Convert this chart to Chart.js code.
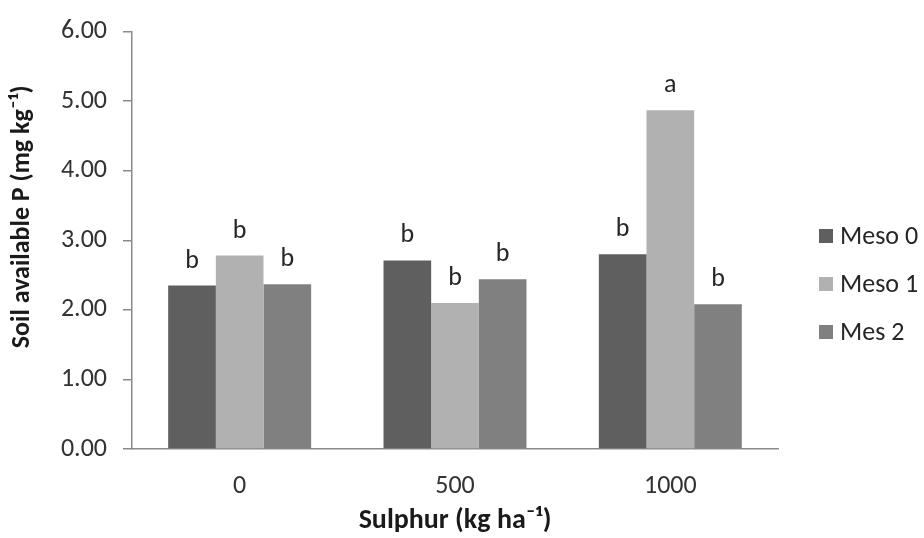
<!DOCTYPE html>
<html>
<head>
<meta charset="utf-8">
<script src="https://cdn.jsdelivr.net/npm/chart.js@4"></script>
<style>
  html, body { margin: 0; padding: 0; background: #ffffff; }
  #wrap { width: 924px; height: 538px; }
</style>
</head>
<body>
<div id="wrap"><canvas id="grafico" width="924" height="538"></canvas></div>
<script>
/* =========================
   DATOS
========================= */

const categorias = ["0", "500", "1000"];

const meso0 = [2.35, 2.71, 2.80];
const meso1 = [2.78, 2.10, 4.87];
const mes2 = [2.37, 2.44, 2.08];

// letras de significancia encima de cada barra
const letrasMeso0 = ["b", "b", "b"];
const letrasMeso1 = ["b", "b", "a"];
const letrasMes2 = ["b", "b", "b"];

const nombresSeries = ["Meso 0", "Meso 1", "Mes 2"];
const coloresSeries = ["#5f5f5f", "#b1b1b1", "#808080"];

const yMin = 0;
const yMax = 6;
const yPaso = 1;

const FUENTE = "Carlito, Lato, 'Open Sans', sans-serif";

/* =========================
   PLUGINS
========================= */

// letras sobre las barras
const pluginLetras = {
  id: "letras",
  afterDatasetsDraw(chart) {
    const ctx = chart.ctx;
    ctx.save();
    ctx.font = "26px " + FUENTE;
    ctx.fillStyle = "#262626";
    ctx.textAlign = "center";
    ctx.textBaseline = "alphabetic";
    chart.data.datasets.forEach((ds, i) => {
      const meta = chart.getDatasetMeta(i);
      meta.data.forEach((bar, j) => {
        ctx.fillText(ds.letras[j], bar.x, bar.y - 18);
      });
    });
    ctx.restore();
  }
};

// leyenda a la derecha
const pluginLeyenda = {
  id: "leyendaDerecha",
  afterDraw(chart) {
    const ctx = chart.ctx;
    const x = chart.chartArea.right + 41;
    const y0 = 236;
    const salto = 48;
    ctx.save();
    ctx.font = "26px " + FUENTE;
    ctx.textBaseline = "middle";
    ctx.textAlign = "left";
    chart.data.datasets.forEach((ds, i) => {
      const y = y0 + i * salto;
      ctx.fillStyle = ds.backgroundColor;
      ctx.fillRect(x, y - 7, 14, 14);
      ctx.fillStyle = "#262626";
      ctx.fillText(ds.label, x + 21, y + 1);
    });
    ctx.restore();
  }
};

/* =========================
   GRÁFICO
========================= */

const series = [meso0, meso1, mes2];
const letras = [letrasMeso0, letrasMeso1, letrasMes2];

new Chart(document.getElementById("grafico"), {
  type: "bar",
  data: {
    labels: categorias,
    datasets: series.map((valores, i) => ({
      label: nombresSeries[i],
      data: valores,
      letras: letras[i],
      backgroundColor: coloresSeries[i],
      borderWidth: 0,
      categoryPercentage: 0.664,
      barPercentage: 1.0
    }))
  },
  options: {
    responsive: false,
    animation: false,
    devicePixelRatio: 1,
    layout: { padding: { left: 0, right: 146, top: 25, bottom: 0 } },
    plugins: {
      legend: { display: false },
      tooltip: { enabled: false }
    },
    scales: {
      x: {
        grid: { display: false, drawTicks: false },
        border: { display: true, color: "#8a8a8a", width: 1.5 },
        ticks: {
          color: "#333333",
          font: { family: FUENTE, size: 26 },
          padding: 22
        },
        title: {
          display: true,
          text: "Sulphur (kg ha\u207B\u00B9)",
          color: "#1a1a1a",
          font: { family: FUENTE, size: 28, weight: "bold" },
          padding: { top: 0, bottom: 0 }
        },
        afterFit(scale) { scale.height = 89; }
      },
      y: {
        min: yMin,
        max: yMax,
        grid: {
          drawOnChartArea: false,
          drawTicks: true,
          tickLength: 9,
          color: "#8a8a8a",
          lineWidth: 1.5
        },
        border: { display: true, color: "#8a8a8a", width: 1.5 },
        ticks: {
          stepSize: yPaso,
          color: "#333333",
          font: { family: FUENTE, size: 26 },
          padding: 16,
          callback: (v) => Number(v).toFixed(2)
        },
        title: {
          display: true,
          // espacios delante para subir un poco el título, como en el original
          text: "        Soil available P (mg kg\u207B\u00B9)",
          color: "#1a1a1a",
          font: { family: FUENTE, size: 26, weight: "bold" },
          padding: { top: 7, bottom: 0 }
        },
        afterFit(scale) { scale.width = 132; }
      }
    }
  },
  plugins: [pluginLetras, pluginLeyenda]
});
</script>
</body>
</html>
